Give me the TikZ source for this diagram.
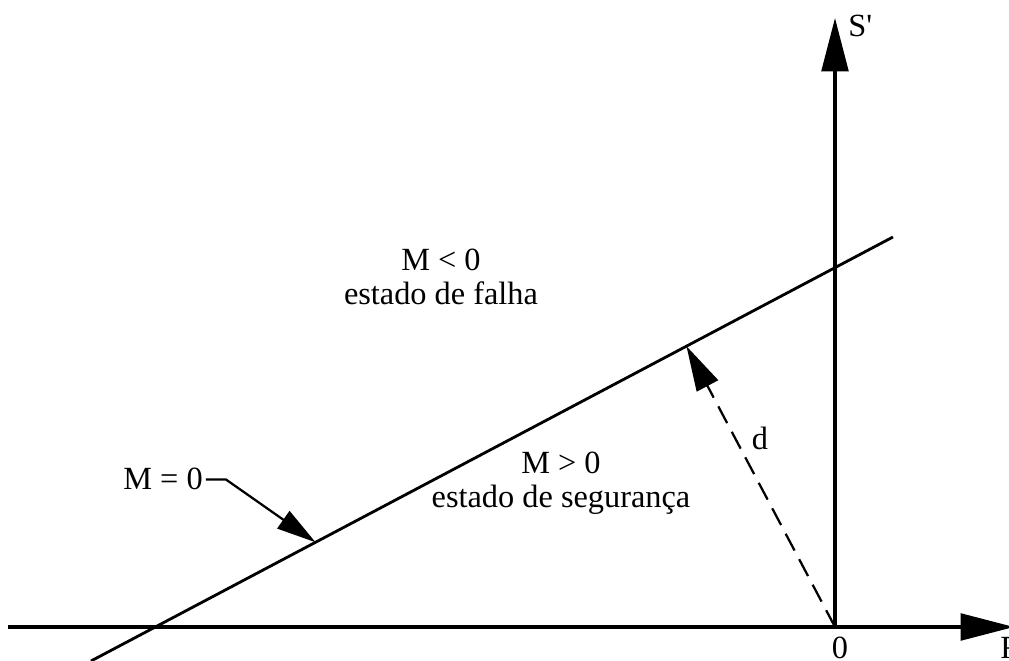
\documentclass[tikz,border=0pt]{standalone}
\usepackage{fontspec}
\setmainfont{Liberation Serif}
\usetikzlibrary{calc,arrows.meta}

\begin{document}
\begin{tikzpicture}[
    x=0.025cm, y=-0.025cm,
    axis/.style={line width=2.4pt, -{Triangle[length=38pt,width=19pt]}},
    limit/.style={line width=2pt},
    pointer/.style={line width=1.6pt, -{Triangle[length=28pt,width=15pt]}},
    dist line/.style={line width=1.6pt, dash pattern=on 13.5pt off 7pt,
      -{Triangle[length=32pt,width=17pt]}},
    txt/.style={font=\fontsize{23}{24.2}\selectfont, inner sep=0pt, align=center}
  ]
  \useasboundingbox (0,0) rectangle (1009,661);

  % eixos R' e S'
  \coordinate (O) at (835,627);
  \coordinate (Rleft) at (8,627);
  \coordinate (Rtip) at (1014,627);
  \coordinate (Stip) at (835,18);
  \draw[axis] (Rleft) -- (Rtip);
  \draw[axis] (O) -- (Stip);
  \node[txt, anchor=base] (zero) at (840,659) {0};
  \node[txt, anchor=base west] (rlab) at (1000,659) {R\textquotesingle};
  \node[txt, anchor=base west] (slab) at (848,37) {S\textquotesingle};

  % superficie de falha M = 0
  \coordinate (L1) at (91,661);
  \coordinate (L2) at (893,237);
  \draw[limit] (L1) -- (L2);

  % distancia d (perpendicular a partir da origem)
  \coordinate (F) at ($(L1)!(O)!(L2)$);
  \draw[dist line] (O) -- (F);
  \node[txt] (d) at (760,438) {d};

  % indicacao M = 0
  \coordinate (P) at ($(L1)!0.28!(L2)$);
  \node[txt, anchor=base east] (m0) at (203,490) {M = 0};
  \draw[pointer] ([xshift=2pt]m0.east) -- ++(20,0) -- (P);

  % regioes
  \node[txt, anchor=base] (falha) at (441,305) {M < 0\\estado de falha};
  \node[txt, anchor=base] (seg) at (561,508) {M > 0\\estado de segurança};
\end{tikzpicture}
\end{document}
